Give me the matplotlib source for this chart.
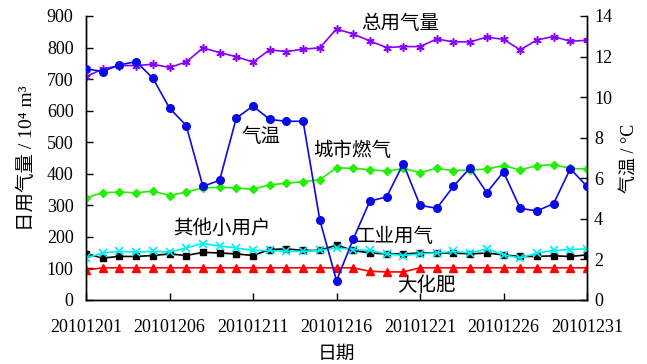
import matplotlib
matplotlib.use("Agg")
import matplotlib.pyplot as plt
import numpy as np

plt.rcParams['font.family'] = ['Liberation Serif', 'Noto Sans CJK SC', 'DejaVu Sans']

days = list(range(1, 32))
tick_days = [1, 6, 11, 16, 21, 26, 31]
tick_labels = ['20101201', '20101206', '20101211', '20101216', '20101221', '20101226', '20101231']

total = [708, 732, 743, 743, 747, 737, 754, 799, 784, 771, 754, 793, 787, 795, 799,
         859, 843, 821, 800, 803, 803, 827, 818, 818, 833, 826, 793, 824, 835, 820, 823]
city = [324, 340, 342, 340, 345, 331, 342, 355, 357, 355, 351, 365, 370, 375, 381,
        419, 417, 413, 408, 417, 404, 417, 410, 412, 415, 426, 412, 426, 429, 417, 415]
small = [133, 149, 154, 152, 154, 152, 165, 179, 171, 165, 157, 157, 154, 154, 157,
         165, 160, 157, 146, 141, 146, 149, 154, 149, 162, 143, 133, 149, 157, 160, 162]
industry = [147, 133, 138, 138, 141, 146, 141, 151, 149, 146, 141, 160, 162, 157, 157,
            174, 157, 149, 146, 146, 149, 149, 149, 146, 149, 143, 138, 138, 140, 138, 143]
fert = [95, 102, 102, 102, 102, 102, 102, 102, 102, 102, 102, 102, 102, 102, 102,
        102, 102, 91, 89, 89, 102, 102, 102, 102, 102, 102, 102, 102, 102, 102, 102]
temp = [11.4, 11.26, 11.59, 11.75, 10.94, 9.46, 8.6, 5.6, 5.9, 8.97, 9.56, 8.9, 8.81, 8.81, 3.95,
        0.95, 3.0, 4.88, 5.08, 6.72, 4.67, 4.52, 5.6, 6.52, 5.29, 6.32, 4.52, 4.39, 4.75, 6.47, 5.6]

fig = plt.figure(figsize=(6.47, 3.64), dpi=100)
ax = fig.add_axes([86/647, 1-300/364, (587-86)/647, (300-16)/364])
ax2 = ax.twinx()

lw = 1.2
ax.plot(days, total, color='#8A00FF', marker=(6, 2, 0), markersize=6, lw=lw, markeredgewidth=1.1, zorder=3)
ax.plot(days, city, color='#22EE00', marker='D', markersize=4, lw=lw, zorder=3)
ax.plot(days, industry, color='black', marker='s', markersize=4.5, lw=lw, zorder=3)
ax.plot(days, small, color='#00F0F0', marker='x', markersize=5.5, markeredgewidth=1.2, lw=lw, zorder=4)
ax.plot(days, fert, color='#FF0000', marker='^', markersize=5.5, lw=lw, zorder=3)
ax2.plot(days, temp, color='#0A0AE6', marker='o', markersize=5.5, lw=lw, zorder=3)

ax.set_xlim(1, 31)
ax.set_ylim(0, 900)
ax.set_yticks(range(0, 901, 100))
ax2.set_ylim(0, 14)
ax2.set_yticks(range(0, 15, 2))
ax.set_xticks(tick_days)
ax.set_xticklabels(tick_labels)

for a in (ax, ax2):
    a.spines['top'].set_visible(False)
    for s in a.spines.values():
        s.set_linewidth(1.0)
ax.tick_params(direction='in', length=5, labelsize=13, width=1.0, pad=9)
ax2.tick_params(direction='in', length=5, labelsize=13, width=1.0, pad=5)
ax.tick_params(axis='x', pad=13.5)

ax.set_xlabel('日期', fontsize=13.5, labelpad=7)
ax.set_ylabel('日用气量 / 10⁴ m³', fontsize=14, labelpad=8)
ax2.set_ylabel('气温 / °C', fontsize=13, labelpad=6)

ann_fs = 14
def ann(x, y, s):
    fig.text(x/647, 1-y/364, s, fontsize=ann_fs, ha='center', va='center')
ann(400, 24, '总用气量')
ann(261, 137, '气温')
ann(352, 151, '城市燃气')
ann(222, 229, '其他小用户')
ann(395, 237, '工业用气')
ann(426, 286, '大化肥')

fig.savefig('out.png', dpi=100)
